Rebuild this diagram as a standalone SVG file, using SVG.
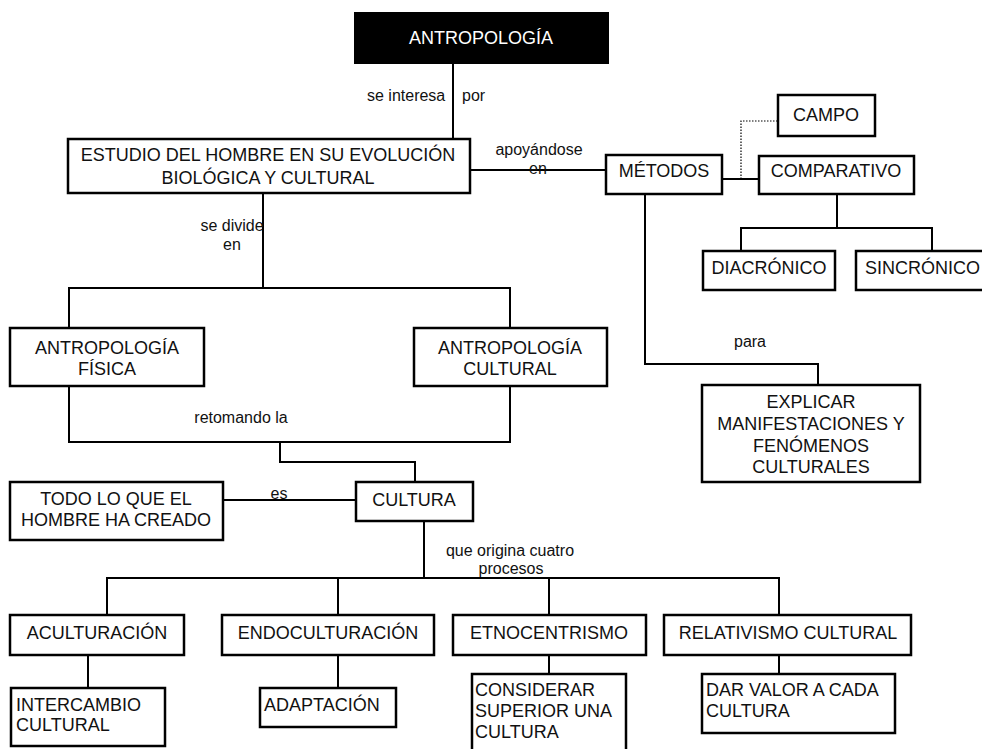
<svg xmlns="http://www.w3.org/2000/svg" width="982" height="749" viewBox="0 0 982 749">
<style>
.box{fill:#fff;stroke:#000;stroke-width:2.5}
.t{font-family:"Liberation Sans",Arial,sans-serif;font-size:18px;fill:#111}
.m{text-anchor:middle}
.l{font-family:"Liberation Sans",Arial,sans-serif;font-size:16px;fill:#111}
.c{stroke:#000;stroke-width:2;fill:none}
.d{stroke:#000;stroke-width:1.2;fill:none;stroke-dasharray:1.5 1.5}
</style>
<rect width="982" height="749" fill="#fff"/>
<g id="connectors">
<path class="c" d="M453,63V139"/>
<path class="c" d="M470,170H606"/>
<path class="c" d="M722,179H759"/>
<path class="d" d="M741,179V121H778"/>
<path class="c" d="M837,194V228M741,251V228H932V251"/>
<path class="c" d="M645,194V364H818V385"/>
<path class="c" d="M263,193V288M69,328V288H510V328"/>
<path class="c" d="M69,386V442H510V386M280,442V462H415V482"/>
<path class="c" d="M223,500H356"/>
<path class="c" d="M424,521V578M107,615V578H779V615M338,578V615M549,578V615"/>
<path class="c" d="M88,655V688M338,655V688M549,655V674M779,655V674"/>
</g>
<g id="labels">
<text class="l" x="367" y="101">se interesa</text>
<text class="l" x="462" y="101">por</text>
<text class="l m" x="539" y="155">apoyándose</text>
<text class="l m" x="538" y="174">en</text>
<text class="l m" x="232" y="231">se divide</text>
<text class="l m" x="232" y="250">en</text>
<text class="l m" x="750" y="347">para</text>
<text class="l m" x="241" y="423">retomando la</text>
<text class="l m" x="279" y="499">es</text>
<text class="l m" x="510" y="556">que origina cuatro</text>
<text class="l m" x="511" y="574">procesos</text>
</g>
<g id="antropologia">
<rect x="355" y="13" width="253" height="50" fill="#000" stroke="#000" stroke-width="2"/>
<text class="t m" x="481" y="44" style="fill:#fff">ANTROPOLOGÍA</text>
</g>
<g id="estudio">
<rect class="box" x="68" y="139" width="402" height="54"/>
<text class="t m" x="268" y="161">ESTUDIO DEL HOMBRE EN SU EVOLUCIÓN</text>
<text class="t m" x="268" y="184">BIOLÓGICA Y CULTURAL</text>
</g>
<g id="metodos">
<rect class="box" x="606" y="155" width="116" height="39"/>
<text class="t m" x="664" y="177">MÉTODOS</text>
</g>
<g id="campo">
<rect class="box" x="778" y="95" width="97" height="41"/>
<text class="t m" x="826" y="121">CAMPO</text>
</g>
<g id="comparativo">
<rect class="box" x="759" y="156" width="155" height="38"/>
<text class="t m" x="836" y="177">COMPARATIVO</text>
</g>
<g id="diacronico">
<rect class="box" x="703" y="251" width="132" height="39"/>
<text class="t m" x="769" y="274">DIACRÓNICO</text>
</g>
<g id="sincronico">
<rect class="box" x="856" y="251" width="140" height="39"/>
<text class="t" x="865" y="274">SINCRÓNICO</text>
</g>
<g id="explicar">
<rect class="box" x="702" y="385" width="218" height="97"/>
<text class="t m" x="811" y="408">EXPLICAR</text>
<text class="t m" x="811" y="430">MANIFESTACIONES Y</text>
<text class="t m" x="811" y="452">FENÓMENOS</text>
<text class="t m" x="811" y="473">CULTURALES</text>
</g>
<g id="fisica">
<rect class="box" x="10" y="328" width="194" height="58"/>
<text class="t m" x="107" y="354">ANTROPOLOGÍA</text>
<text class="t m" x="107" y="375">FÍSICA</text>
</g>
<g id="cultural">
<rect class="box" x="414" y="328" width="193" height="58"/>
<text class="t m" x="510" y="354">ANTROPOLOGÍA</text>
<text class="t m" x="510" y="375">CULTURAL</text>
</g>
<g id="todo">
<rect class="box" x="10" y="482" width="213" height="58"/>
<text class="t m" x="116" y="505">TODO LO QUE EL</text>
<text class="t m" x="116" y="526">HOMBRE HA CREADO</text>
</g>
<g id="cultura">
<rect class="box" x="356" y="482" width="117" height="39"/>
<text class="t m" x="414" y="506">CULTURA</text>
</g>
<g id="aculturacion">
<rect class="box" x="10" y="615" width="174" height="40"/>
<text class="t m" x="97" y="639">ACULTURACIÓN</text>
</g>
<g id="endoculturacion">
<rect class="box" x="222" y="615" width="212" height="40"/>
<text class="t m" x="328" y="639">ENDOCULTURACIÓN</text>
</g>
<g id="etnocentrismo">
<rect class="box" x="453" y="615" width="193" height="40"/>
<text class="t m" x="549" y="639">ETNOCENTRISMO</text>
</g>
<g id="relativismo">
<rect class="box" x="664" y="615" width="247" height="40"/>
<text class="t m" x="788" y="639">RELATIVISMO CULTURAL</text>
</g>
<g id="intercambio">
<rect class="box" x="11" y="688" width="154" height="58"/>
<text class="t" x="16" y="711">INTERCAMBIO</text>
<text class="t" x="16" y="731">CULTURAL</text>
</g>
<g id="adaptacion">
<rect class="box" x="260" y="688" width="136" height="39"/>
<text class="t" x="264" y="711">ADAPTACIÓN</text>
</g>
<g id="considerar">
<rect class="box" x="472" y="674" width="154" height="90"/>
<text class="t" x="475" y="696">CONSIDERAR</text>
<text class="t" x="475" y="717">SUPERIOR UNA</text>
<text class="t" x="475" y="738">CULTURA</text>
</g>
<g id="darvalor">
<rect class="box" x="702" y="674" width="193" height="59"/>
<text class="t" x="706" y="696">DAR VALOR A CADA</text>
<text class="t" x="706" y="717">CULTURA</text>
</g>
</svg>
